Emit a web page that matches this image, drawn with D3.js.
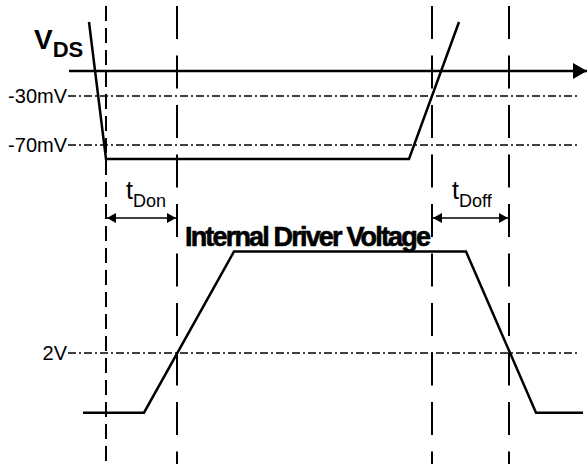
<!DOCTYPE html>
<html>
<head>
<meta charset="utf-8">
<script src="https://cdn.jsdelivr.net/npm/d3@7"></script>
<style>
  body { margin: 0; background: #fff; }
  text { font-family: "Liberation Sans", Arial, sans-serif; fill: #000; }
</style>
</head>
<body>
<div id="chart"></div>
<script>
// time axis (arbitrary units)
const markerTimes = [38, 109, 364, 441]
const markerDash = ['15,7', '33,16.5', '33,16.5', '33,16.5']

// V_DS waveform (time, mV)
const vdsTimes = [21, 38, 341, 391]
const vdsValues = [60, -82, -82, 60]
const vdsLevels = [-30, -70]
const vdsLevelLabels = ['-30mV', '-70mV']

// internal driver voltage (time, V)
const drvTimes = [15, 76, 166, 398, 468, 515]
const drvValues = [0, 0, 5.4, 5.4, 0, 0]
const drvLevels = [2]
const drvLevelLabels = ['2V']

// delay annotations
const delayNames = ['Don', 'Doff']
const delayFrom = [0, 2]
const delayTo = [1, 3]

var width = 587,
  height = 464

var x = d3.scaleLinear().domain([0, 520]).range([68, 588])
var yVds = d3.scaleLinear().domain([60, 0, -30, -70, -82]).range([22, 71, 96, 145, 159])
var yDrv = d3.scaleLinear().domain([0, 2]).range([412.7, 353])

var svg = d3.select('#chart').append('svg')
  .attr('width', width)
  .attr('height', height)

var defs = svg.append('defs')
defs.append('marker')
  .attr('id', 'axisArrow')
  .attr('viewBox', '0 0 14 16')
  .attr('refX', 14).attr('refY', 8)
  .attr('markerWidth', 14).attr('markerHeight', 16)
  .attr('markerUnits', 'userSpaceOnUse')
  .attr('orient', 'auto')
  .append('path').attr('d', 'M0,0L14,8L0,16Z').attr('fill', '#000')

defs.append('marker')
  .attr('id', 'smallArrow')
  .attr('viewBox', '0 0 9 10')
  .attr('refX', 9).attr('refY', 5)
  .attr('markerWidth', 9).attr('markerHeight', 10)
  .attr('markerUnits', 'userSpaceOnUse')
  .attr('orient', 'auto-start-reverse')
  .append('path').attr('d', 'M0,0L9,5L0,10Z').attr('fill', '#000')

// threshold lines (dash-dot)
var levels = vdsLevels.map(function (v, i) { return { y: yVds(v), label: vdsLevelLabels[i] } })
  .concat(drvLevels.map(function (v, i) { return { y: yDrv(v), label: drvLevelLabels[i] } }))

svg.selectAll('.level')
  .data(levels)
  .enter().append('line')
  .attr('class', 'level')
  .attr('x1', x(0)).attr('x2', x(512))
  .attr('y1', function (d) { return d.y })
  .attr('y2', function (d) { return d.y })
  .attr('stroke', '#000')
  .attr('stroke-width', 1.5)
  .attr('stroke-dasharray', '8,3,2,3')

svg.selectAll('.levelLabel')
  .data(levels)
  .enter().append('text')
  .attr('x', x(0) - 1)
  .attr('y', function (d) { return d.y + 7 })
  .attr('text-anchor', 'end')
  .attr('font-size', 20)
  .text(function (d) { return d.label })

// time markers (dashed verticals)
svg.selectAll('.marker')
  .data(markerTimes)
  .enter().append('line')
  .attr('class', 'marker')
  .attr('x1', function (d) { return x(d) })
  .attr('x2', function (d) { return x(d) })
  .attr('y1', 6).attr('y2', height)
  .attr('stroke', '#000')
  .attr('stroke-width', 2)
  .attr('stroke-dasharray', function (d, i) { return markerDash[i] })

// V_DS zero axis with arrow
svg.append('line')
  .attr('x1', x(1)).attr('x2', x(519))
  .attr('y1', yVds(0)).attr('y2', yVds(0))
  .attr('stroke', '#000')
  .attr('stroke-width', 2.5)
  .attr('marker-end', 'url(#axisArrow)')

var line = d3.line()

svg.append('path')
  .attr('d', line(vdsTimes.map(function (t, i) { return [x(t), yVds(vdsValues[i])] })))
  .attr('fill', 'none')
  .attr('stroke', '#000')
  .attr('stroke-width', 2.5)

svg.append('path')
  .attr('d', line(drvTimes.map(function (t, i) { return [x(t), yDrv(drvValues[i])] })))
  .attr('fill', 'none')
  .attr('stroke', '#000')
  .attr('stroke-width', 2.5)

// V_DS label
var vds = svg.append('text')
  .attr('x', 34).attr('y', 49)
  .attr('font-weight', 'bold')
vds.append('tspan').attr('font-size', 28).text('V')
vds.append('tspan').attr('font-size', 22).attr('dy', 8).text('DS')

// driver label
svg.append('text')
  .attr('x', 185).attr('y', 246)
  .attr('font-size', 27)
  .attr('font-weight', 'bold')
  .attr('stroke', '#000')
  .attr('stroke-width', 0.6)
  .attr('textLength', 246)
  .attr('lengthAdjust', 'spacing')
  .text('Internal Driver Voltage')

// delay arrows
delayNames.forEach(function (name, i) {
  var x0 = x(markerTimes[delayFrom[i]]),
    x1 = x(markerTimes[delayTo[i]])
  svg.append('line')
    .attr('x1', x0 + 1).attr('x2', x1 - 1)
    .attr('y1', 218).attr('y2', 218)
    .attr('stroke', '#000')
    .attr('stroke-width', 1.5)
    .attr('marker-start', 'url(#smallArrow)')
    .attr('marker-end', 'url(#smallArrow)')
  var t = svg.append('text')
    .attr('x', x0 + 20).attr('y', 199)
  t.append('tspan').attr('font-size', 25).text('t')
  t.append('tspan').attr('font-size', 18).attr('dy', 8).text(name)
})
</script>
</body>
</html>
